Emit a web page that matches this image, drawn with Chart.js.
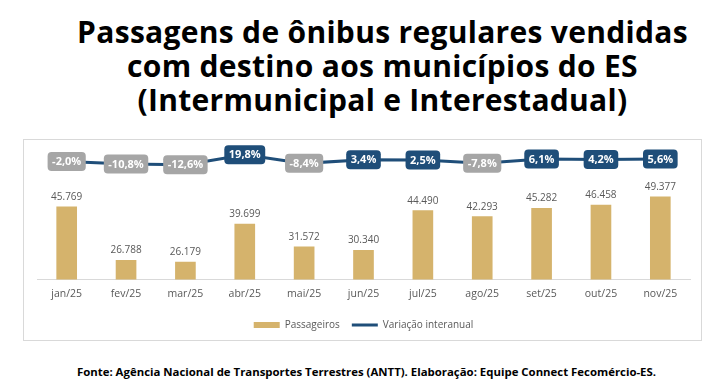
<!DOCTYPE html>
<html lang="pt-BR">
<head>
<meta charset="utf-8">
<script src="https://cdn.jsdelivr.net/npm/chart.js@4.4.1/dist/chart.umd.min.js"></script>
<style>
  html, body { margin: 0; padding: 0; background: #fff; }
  body { width: 709px; height: 386px; position: relative; overflow: hidden; font-family: "Open Sans", sans-serif; }
  #title { position: absolute; left: 0; width: 709px; top: 15px; padding-left: 56px; box-sizing: border-box;
    text-align: center; font-weight: 700; font-size: 30px; line-height: 34px; color: #000; letter-spacing: 0.3px; }
  #box { position: absolute; left: 23px; top: 139px; width: 679px; height: 202px; box-sizing: border-box;
    border: 1px solid #d9d9d9; }
  #footer { position: absolute; left: 0; width: 709px; top: 364px; padding-left: 24px; box-sizing: border-box;
    text-align: center; font-weight: 700; font-size: 11.4px; color: #000; }
</style>
</head>
<body>
<div id="title">Passagens de ônibus regulares vendidas<br>com destino aos municípios do ES<br>(Intermunicipal e Interestadual)</div>
<div id="box"><canvas id="c" width="677" height="200"></canvas></div>
<div id="footer">Fonte: Agência Nacional de Transportes Terrestres (ANTT). Elaboração: Equipe Connect Fecomércio-ES.</div>
<script>
"use strict";
// Monthly data (pt-BR formatting applied at draw time).
const meses = ["jan/25", "fev/25", "mar/25", "abr/25", "mai/25", "jun/25", "jul/25", "ago/25", "set/25", "out/25", "nov/25"];
const passageiros = [45769, 26788, 26179, 39699, 31572, 30340, 44490, 42293, 45282, 46458, 49377];
const variacao = [-2.0, -10.8, -12.6, 19.8, -8.4, 3.4, 2.5, -7.8, 6.1, 4.2, 5.6];

const GOLD = "#d5b36c";
const BLUE = "#1f4e79";
const GRAY = "#a6a6a6";
const TEXT = "#595959";

const fmtInt = (v) => String(v).replace(/\B(?=(\d{3})+(?!\d))/g, ".");
const fmtPct = (v) => v.toFixed(1).replace(".", ",") + "%";

// value labels: plain numbers over bars, rounded tags on the line
const valueLabels = {
  id: "valueLabels",
  afterDatasetsDraw(chart) {
    const ctx = chart.ctx;
    ctx.save();
    ctx.textAlign = "center";
    ctx.font = '10px "Open Sans"';
    ctx.fillStyle = TEXT;
    ctx.textBaseline = "alphabetic";
    chart.getDatasetMeta(0).data.forEach((el, i) => ctx.fillText(fmtInt(passageiros[i]), el.x, el.y - 7));

    ctx.font = 'bold 11px "Open Sans"';
    ctx.textBaseline = "middle";
    chart.getDatasetMeta(1).data.forEach((el, i) => {
      const v = variacao[i], txt = fmtPct(v);
      const w = ctx.measureText(txt).width + 9, h = 19;
      ctx.fillStyle = v >= 0 ? BLUE : GRAY;
      ctx.beginPath();
      ctx.roundRect(el.x - w / 2, el.y - h / 2, w, h, 4);
      ctx.fill();
      ctx.fillStyle = "#fff";
      ctx.fillText(txt, el.x, el.y + 0.5);
    });
    ctx.restore();
  },
};

// legend: flat swatch for the bars, a plain stroke for the line
const legendItems = (chart) => Chart.defaults.plugins.legend.labels.generateLabels(chart)
  .map((it) => it.datasetIndex === 1
    ? { ...it, pointStyle: "line", strokeStyle: BLUE, lineWidth: 3 }
    : { ...it, pointStyle: "rect", lineWidth: 0 });

new Chart(document.getElementById("c"), {
  data: {
    labels: meses,
    datasets: [
      { type: "bar", label: "Passageiros", data: passageiros, yAxisID: "y",
        backgroundColor: GOLD, borderWidth: 0, barThickness: 20 },
      { type: "line", label: "Variação interanual", data: variacao, yAxisID: "y2",
        borderColor: BLUE, backgroundColor: BLUE, borderWidth: 3, pointRadius: 0, tension: 0, clip: false },
    ],
  },
  options: {
    responsive: false, animation: false,
    layout: { padding: { left: 13, right: 11, top: 10, bottom: 0 } },
    scales: {
      x: { grid: { display: false, drawTicks: false }, border: { display: true, color: "#d9d9d9", width: 1 },
        ticks: { color: TEXT, font: { family: "Open Sans", size: 10.5 }, padding: 8 } },
      y: { display: false, min: 20000, max: 66000 },
      y2: { display: false, min: -385, max: 35 },
    },
    plugins: {
      legend: { position: "bottom",
        labels: { color: TEXT, font: { family: "Open Sans", size: 10 }, usePointStyle: true, pointStyleWidth: 26,
          boxHeight: 6, padding: 12, generateLabels: legendItems } },
      tooltip: { enabled: false },
    },
  },
  plugins: [valueLabels],
});
</script>
</body>
</html>
